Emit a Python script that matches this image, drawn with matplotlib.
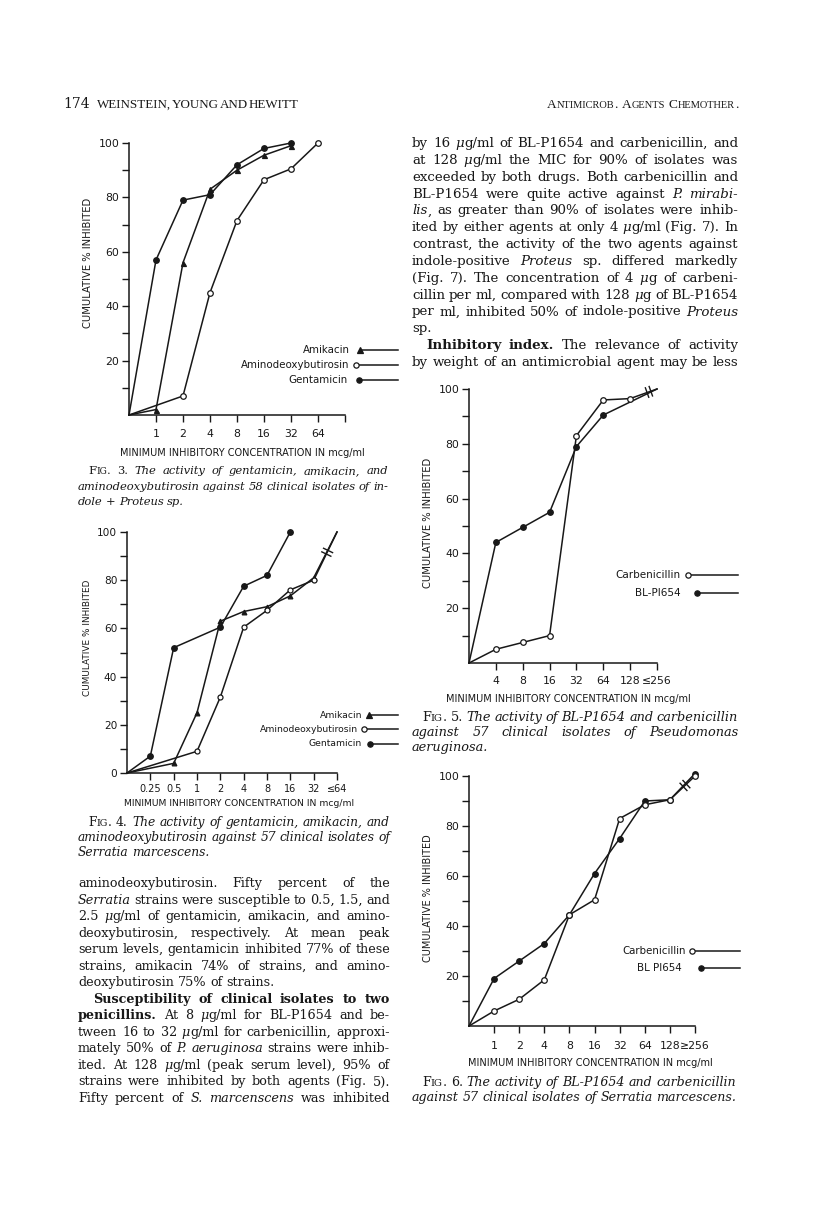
import matplotlib
matplotlib.use('Agg')
import matplotlib.pyplot as plt
import numpy as np

W, H = 816, 1213
INK = '#181818'
plt.rcParams['font.family'] = ['DejaVu Sans']
NARROW = ['Liberation Sans Narrow', 'DejaVu Sans']
SANS = ['DejaVu Sans']
SERIF = ['DejaVu Serif']
CAPSERIF = ['Liberation Serif', 'DejaVu Serif']

# ---------------- data ----------------
# x positions are tick indices (0 = origin of the axis)
f3_labels = ['1', '2', '4', '8', '16', '32', '64']
f3_amik_pos = [0, 1, 2, 3, 4, 5, 6]
f3_amik = [0, 2, 56, 83, 90, 95.5, 99]
f3_amino_pos = [0, 2, 3, 4, 5, 6, 7]
f3_amino = [0, 7, 45, 71.5, 86.5, 90.5, 100]
f3_gent_pos = [0, 1, 2, 3, 4, 5, 6]
f3_gent = [0, 57, 79, 81, 92, 98, 100]

f4_labels = ['0.25', '0.5', '1', '2', '4', '8', '16', '32', '≤64']
f4_amik_pos = [0, 2, 3, 4, 5, 6, 7, 8, 9]
f4_amik = [0, 4, 25, 63, 67, 69, 73.5, 81, 100]
f4_amino_pos = [0, 3, 4, 5, 6, 7, 8, 9]
f4_amino = [0, 9, 31.5, 60.5, 67.5, 76, 80, 100]
f4_gent_pos = [0, 1, 2, 4, 5, 6, 7]
f4_gent = [0, 7, 52, 60.5, 77.5, 82, 100]

f5_labels = ['4', '8', '16', '32', '64', '128', '≤256']
f5_carb_pos = [0, 1, 2, 3, 4, 5, 6, 7]
f5_carb = [0, 5, 7.5, 10, 83, 96, 96.5, 100]
f5_bl_pos = [0, 1, 2, 3, 4, 5, 7]
f5_bl = [0, 44, 49.5, 55, 79, 90.5, 100]

f6_labels = ['1', '2', '4', '8', '16', '32', '64', '128', '≥256']
f6_carb_pos = [0, 1, 2, 3, 4, 5, 6, 7, 8, 9]
f6_carb = [0, 6, 10.7, 18.5, 44.5, 50.5, 83, 88.5, 90.5, 100]
f6_bl_pos = [0, 1, 2, 3, 4, 5, 6, 7, 8, 9]
f6_bl = [0, 19, 26, 33, 44.5, 61, 75, 90, 90.5, 101]

YLABEL = 'CUMULATIVE % INHIBITED'
XLABEL = 'MINIMUM INHIBITORY CONCENTRATION IN mcg/ml'

# ---------------- figure ----------------
fig = plt.figure(figsize=(W / 100, H / 100), dpi=100)
fig.patch.set_facecolor('white')
renderer = fig.canvas.get_renderer()

ov = fig.add_axes([0, 0, 1, 1], zorder=10)
ov.set_xlim(0, W)
ov.set_ylim(H, 0)
ov.axis('off')
ov.patch.set_alpha(0)


def txt(x, y, s, size, family, it=False, bd=False, ha='left', va='baseline', **kw):
    return ov.text(x, y, s, fontsize=size, family=family,
                   style='italic' if it else 'normal',
                   weight='bold' if bd else 'normal',
                   ha=ha, va=va, color=INK, **kw)


def wid(t):
    return t.get_window_extent(renderer=renderer).width


def parse(s):
    runs = []
    it = bd = sc = False
    buf = ''
    for ch in s:
        if ch in '*#~':
            if buf:
                runs.append((buf, it, bd, sc))
                buf = ''
            if ch == '*':
                it = not it
            elif ch == '#':
                bd = not bd
            else:
                sc = not sc
        else:
            buf += ch
    if buf:
        runs.append((buf, it, bd, sc))
    words = [[]]
    for text, it, bd, sc in runs:
        parts = text.split(' ')
        for k, p in enumerate(parts):
            if k > 0:
                words.append([])
            if p:
                words[-1].append((p, it, bd, sc))
    return [w for w in words if w]


def build(y, s, size, family):
    words = parse(s)
    objs = []
    for w in words:
        wo = []
        for p, it, bd, sc in w:
            if sc:
                grp = []
                for ch in p:
                    low = ch.islower()
                    if grp and grp[-1][1] == low:
                        grp[-1][0] += ch
                    else:
                        grp.append([ch, low])
                for g, low in grp:
                    wo.append(txt(0, y, g.upper() if low else g,
                                  size * 0.78 if low else size, family, it, bd))
            else:
                wo.append(txt(0, y, p, size, family, it, bd))
        objs.append(wo)
    widths = [[wid(t) for t in wo] for wo in objs]
    return objs, widths


def natural(s, size, family):
    objs, widths = build(0, s, size, family)
    for wo in objs:
        for t in wo:
            t.remove()
    return sum(sum(ws) for ws in widths), len(objs)


def draw_line(x0, x1, y, s, size, align='left', family=SERIF):
    objs, widths = build(y, s, size, family)
    total = sum(sum(ws) for ws in widths)
    n = len(objs)
    em = size * 100 / 72
    gap = 0.3 * em
    if align == 'justify' and n > 1:
        gap = (x1 - x0 - total) / (n - 1)
    x = x1 - (total + gap * (n - 1)) if align == 'right' else x0
    for wo, ws in zip(objs, widths):
        for t, w in zip(wo, ws):
            t.set_x(x)
            x += w
        x += gap


def block(lines, x0, x1, ybase, pitch, size, family=SERIF, spc=0.27):
    # choose one font size so that the tightest justified line gets normal spacing
    k = 10.0
    em = size * 100 / 72
    for s, align, ind in lines:
        if align != 'justify':
            continue
        T, n = natural(s, size, family)
        k = min(k, (x1 - x0 - ind) / (T + spc * em * (n - 1)))
    fs = size * k
    for i, (s, align, ind) in enumerate(lines):
        draw_line(x0 + ind, x1, ybase + i * pitch, s, fs, align, family)


def make_axes(x0, x1, y0, y100, nsteps, labels, yt, xfs, yfs, xpad):
    ax = fig.add_axes([x0 / W, 1 - y0 / H, (x1 - x0) / W, (y0 - y100) / H])
    ax.set_xlim(0, nsteps)
    ax.set_ylim(0, 100)
    ax.patch.set_visible(False)
    for s in ['top', 'right']:
        ax.spines[s].set_visible(False)
    for s in ['left', 'bottom']:
        ax.spines[s].set_linewidth(1.1)
        ax.spines[s].set_color(INK)
    ax.set_xticks(range(1, nsteps + 1))
    ax.set_xticklabels(labels + [''] * (nsteps - len(labels)))
    ax.set_yticks(yt)
    ax.set_yticklabels([str(v) for v in yt])
    ax.set_yticks([10, 30, 50, 70, 90], minor=True)
    ax.tick_params(axis='both', which='both', direction='out', length=5,
                   width=1.0, color=INK, labelcolor=INK)
    ax.tick_params(axis='x', pad=xpad, labelsize=xfs)
    ax.tick_params(axis='y', pad=2, labelsize=yfs)
    return ax


def series(ax, pos, vals, marker, filled, open_end=False, ms=4.0, z=4):
    ax.plot(pos, vals, '-', color=INK, lw=1.1, clip_on=False, zorder=3)
    mp = pos[1:-1] if open_end else pos[1:]
    mv = vals[1:-1] if open_end else vals[1:]
    ax.plot(mp, mv, ls='none', marker=marker, ms=ms,
            mfc=INK if filled else 'white', mec=INK, mew=0.9,
            clip_on=False, zorder=z)


def break_mark(ax, pos, vals, frac, half=5.0, gap=2.0):
    p0 = ax.transData.transform((pos[-2], vals[-2]))
    p1 = ax.transData.transform((pos[-1], vals[-1]))
    p0 = np.array([p0[0], H - p0[1]])
    p1 = np.array([p1[0], H - p1[1]])
    d = p1 - p0
    d = d / np.hypot(*d)
    nrm = np.array([-d[1], d[0]])
    c = p0 + (p1 - p0) * frac
    for s in (-gap, gap):
        cc = c + d * s
        a = cc - nrm * half
        b = cc + nrm * half
        ov.plot([a[0], b[0]], [a[1], b[1]], color=INK, lw=1.0)


def legend_entry(xr, y, label, marker, filled, xm, xend, size):
    txt(xr, y, label, size, SANS, ha='right', va='center')
    ov.plot([xm, xend], [y, y], color=INK, lw=1.1)
    ov.plot([xm], [y], marker=marker, ms=3.8, mfc=INK if filled else 'white',
            mec=INK, mew=0.9, ls='none')


# ---------------- Fig. 3 ----------------
ax3 = make_axes(129, 345, 415, 143, 8, f3_labels, [20, 40, 60, 80, 100], 7.8, 7.8, 5)
series(ax3, f3_gent_pos, f3_gent, 'o', True)
series(ax3, f3_amik_pos, f3_amik, '^', True, ms=3.6)
series(ax3, f3_amino_pos, f3_amino, 'o', False, z=5)
legend_entry(350, 350, 'Amikacin', '^', True, 360, 398, 7.4)
legend_entry(349, 365, 'Aminodeoxybutirosin', 'o', False, 356, 398, 7.4)
legend_entry(348, 380, 'Gentamicin', 'o', True, 359, 398, 7.4)
txt(88, 263, YLABEL, 7.2, NARROW, ha='center', va='center', rotation=90)
txt(242, 453, XLABEL, 7.0, NARROW, ha='center', va='center')

# ---------------- Fig. 4 ----------------
ax4 = make_axes(127, 337, 773, 532, 9, f4_labels, [0, 20, 40, 60, 80, 100], 7.0, 7.6, 3)
series(ax4, f4_gent_pos, f4_gent, 'o', True)
series(ax4, f4_amik_pos, f4_amik, '^', True, open_end=True, ms=3.4)
series(ax4, f4_amino_pos, f4_amino, 'o', False, open_end=True, ms=3.6, z=5)
break_mark(ax4, f4_amino_pos, f4_amino, 0.58)
legend_entry(362, 715, 'Amikacin', '^', True, 369, 398, 6.7)
legend_entry(358, 729, 'Aminodeoxybutirosin', 'o', False, 364, 398, 6.7)
legend_entry(362, 744, 'Gentamicin', 'o', True, 370, 398, 6.7)
txt(88, 638, YLABEL, 6.4, NARROW, ha='center', va='center', rotation=90)
txt(239, 803, XLABEL, 6.7, NARROW, ha='center', va='center')

# ---------------- Fig. 5 ----------------
ax5 = make_axes(469, 657, 663, 389, 7, f5_labels, [20, 40, 60, 80, 100], 7.8, 7.8, 4)
series(ax5, f5_bl_pos, f5_bl, 'o', True, open_end=True)
series(ax5, f5_carb_pos, f5_carb, 'o', False, open_end=True, z=5)
break_mark(ax5, f5_carb_pos, f5_carb, 0.7)
legend_entry(681, 575, 'Carbenicillin', 'o', False, 688, 738, 7.5)
legend_entry(681, 593, 'BL-PI654', 'o', True, 697, 738, 7.5)
txt(428, 523, YLABEL, 7.2, NARROW, ha='center', va='center', rotation=90)
txt(568, 699, XLABEL, 7.0, NARROW, ha='center', va='center')

# ---------------- Fig. 6 ----------------
ax6 = make_axes(469, 695, 1026, 776, 9, f6_labels, [20, 40, 60, 80, 100], 7.8, 7.8, 6)
series(ax6, f6_bl_pos, f6_bl, 'o', True)
series(ax6, f6_carb_pos, f6_carb, 'o', False, z=5)
break_mark(ax6, f6_carb_pos, f6_carb, 0.6)
legend_entry(686, 951, 'Carbenicillin', 'o', False, 692, 740, 7.4)
legend_entry(682, 968, 'BL PI654', 'o', True, 701, 740, 7.4)
txt(428, 898, YLABEL, 7.0, NARROW, ha='center', va='center', rotation=90)
txt(590, 1063, XLABEL, 7.0, NARROW, ha='center', va='center')

# ---------------- page text ----------------
txt(63, 108, '174', 10, SERIF)
draw_line(97, 298, 108, 'WEINSTEIN, YOUNG AND HEWITT', 9.4, 'justify', CAPSERIF)
draw_line(531, 738, 108, '~Antimicrob. Agents Chemother.~', 9.6, 'right', CAPSERIF)

CAP = SERIF
block([('~Fig.~ 3. *The activity of gentamicin, amikacin, and*', 'justify', 10),
       ('*aminodeoxybutirosin against 58 clinical isolates of in-*', 'justify', 0),
       ('*dole* + *Proteus sp.*', 'left', 0)],
      78, 388, 474, 15.5, 9.0, CAP)
block([('~Fig.~ 4. *The activity of gentamicin, amikacin, and*', 'justify', 10),
       ('*aminodeoxybutirosin against 57 clinical isolates of*', 'justify', 0),
       ('*Serratia marcescens.*', 'left', 0)],
      78, 390, 826, 15.2, 9.0, CAP)
block([('~Fig.~ 5. *The activity of BL-P1654 and carbenicillin*', 'justify', 10),
       ('*against 57 clinical isolates of Pseudomonas*', 'justify', 0),
       ('*aeruginosa.*', 'left', 0)],
      412, 738, 721, 15.0, 9.0, CAP)
block([('~Fig.~ 6. *The activity of BL-P1654 and carbenicillin*', 'justify', 10),
       ('*against 57 clinical isolates of Serratia marcescens.*', 'justify', 0)],
      412, 736, 1086, 15.0, 9.0, CAP)

right_col = [
    ('by 16 *μ*g/ml of BL-P1654 and carbenicillin, and', 'justify', 0),
    ('at 128 *μ*g/ml the MIC for 90% of isolates was', 'justify', 0),
    ('exceeded by both drugs. Both carbenicillin and', 'justify', 0),
    ('BL-P1654 were quite active against *P. mirabi-*', 'justify', 0),
    ('*lis*, as greater than 90% of isolates were inhib-', 'justify', 0),
    ('ited by either agents at only 4 *μ*g/ml (Fig. 7). In', 'justify', 0),
    ('contrast, the activity of the two agents against', 'justify', 0),
    ('indole-positive *Proteus* sp. differed markedly', 'justify', 0),
    ('(Fig. 7). The concentration of 4 *μ*g of carbeni-', 'justify', 0),
    ('cillin per ml, compared with 128 *μ*g of BL-P1654', 'justify', 0),
    ('per ml, inhibited 50% of indole-positive *Proteus*', 'justify', 0),
    ('sp.', 'left', 0),
    ('#Inhibitory index.# The relevance of activity', 'justify', 14),
    ('by weight of an antimicrobial agent may be less', 'justify', 0),
]
block(right_col, 412, 738, 147, 16.85, 9.2)

left_col = [
    ('aminodeoxybutirosin. Fifty percent of the', 'justify', 0),
    ('*Serratia* strains were susceptible to 0.5, 1.5, and', 'justify', 0),
    ('2.5 *μ*g/ml of gentamicin, amikacin, and amino-', 'justify', 0),
    ('deoxybutirosin, respectively. At mean peak', 'justify', 0),
    ('serum levels, gentamicin inhibited 77% of these', 'justify', 0),
    ('strains, amikacin 74% of strains, and amino-', 'justify', 0),
    ('deoxybutirosin 75% of strains.', 'left', 0),
    ('#Susceptibility of clinical isolates to two#', 'justify', 15),
    ('#penicillins.# At 8 *μ*g/ml for BL-P1654 and be-', 'justify', 0),
    ('tween 16 to 32 *μ*g/ml for carbenicillin, approxi-', 'justify', 0),
    ('mately 50% of *P. aeruginosa* strains were inhib-', 'justify', 0),
    ('ited. At 128 *μ*g/ml (peak serum level), 95% of', 'justify', 0),
    ('strains were inhibited by both agents (Fig. 5).', 'justify', 0),
    ('Fifty percent of *S. marcenscens* was inhibited', 'justify', 0),
]
block(left_col, 78, 390, 887, 16.54, 9.2)

fig.savefig('out.png', dpi=100, facecolor='white')
